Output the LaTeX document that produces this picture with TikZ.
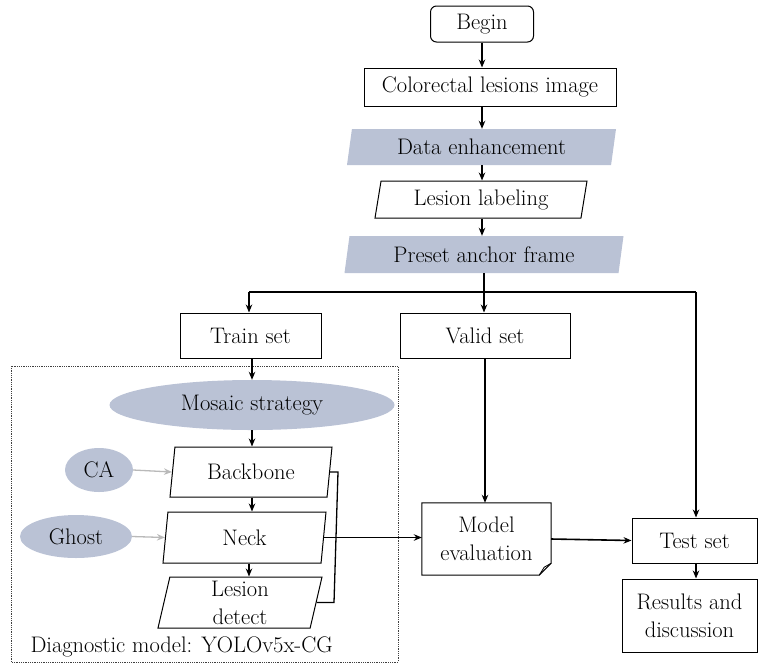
\documentclass[tikz,border=0pt]{standalone}
\usepackage{fontspec}
\usetikzlibrary{shapes.geometric,arrows.meta}
\definecolor{shade}{RGB}{186,194,213}
\tikzset{
  box/.style={draw, line width=1pt, inner sep=2pt},
  slant/.style={trapezium, trapezium left angle=76, trapezium right angle=104,
    trapezium stretches body, inner sep=2pt},
  io/.style={slant, draw, line width=1pt},
  iofill/.style={slant, fill=shade},
  blob/.style={ellipse, fill=shade, inner sep=1pt},
  flow/.style={->, line width=1.6pt},
  side/.style={->, gray!55, line width=1.3pt},
}
\begin{document}
\begin{tikzpicture}[x=1pt, y=-1pt, >={Stealth[length=8pt,width=6.5pt]},
  every node/.style={font=\rmfamily\fontsize{22.5}{28}\selectfont, align=center}]
  \useasboundingbox (0,0) rectangle (759,665);
  % main column
  \node[box, rounded corners=6pt, minimum width=103pt, minimum height=36pt] (begin) at (482,24) {Begin};
  \node[box, minimum width=252pt, minimum height=38pt] (image) at (490,87) {Colorectal lesions image};
  \node[iofill, minimum width=269pt, minimum height=36pt] (enhance) at (481.5,147) {Data enhancement};
  \node[io, minimum width=212pt, minimum height=37pt] (label) at (481,199.5) {Lesion labeling};
  \node[iofill, minimum width=279pt, minimum height=37pt] (anchor) at (484,254.5) {Preset anchor frame};
  % data split
  \node[box, minimum width=141pt, minimum height=45pt] (train) at (250.5,335.5) {Train set};
  \node[box, minimum width=170pt, minimum height=45pt] (valid) at (485,335.5) {Valid set};
  \node[box, minimum width=125pt, minimum height=45pt] (test) at (694.5,540.5) {Test set};
  \node[box, minimum width=135pt, minimum height=73pt] (results) at (689.5,615.5) {Results and\\discussion};
  \node[minimum width=129pt, minimum height=72pt] (evaluation) at (486.5,539) {Model\\evaluation};
  % diagnostic model
  \draw[densely dotted, line width=0.8pt, black!75] (11,366) rectangle (398,662);
  \node[blob, minimum width=285pt, minimum height=50pt] (mosaic) at (252,405) {Mosaic strategy};
  \node[io, minimum width=162pt, minimum height=50pt] (backbone) at (251,472) {Backbone};
  \node[io, minimum width=163pt, minimum height=51pt] (neck) at (244.5,537.5) {Neck};
  \node[io, minimum width=164pt, minimum height=51pt] (detect) at (240,602.5) {Lesion\\detect};
  \node[blob, minimum width=68pt, minimum height=44pt] (ca) at (99,470) {CA};
  \node[blob, minimum width=112pt, minimum height=43pt] (ghost) at (76,536.5) {Ghost};
  \node[anchor=west] (caption) at (27,647) {Diagnostic model: YOLOv5x-CG};

  % document outline with folded corner
  \draw[line width=1pt] (evaluation.north west) -- (evaluation.north east)
    -- ([yshift=12pt]evaluation.south east) -- ([xshift=-12pt]evaluation.south east)
    -- (evaluation.south west) -- cycle;
  \draw[line width=0.8pt] ([yshift=12pt]evaluation.south east)
    -- ([xshift=-7pt,yshift=8pt]evaluation.south east)
    .. controls ([xshift=-10pt,yshift=4pt]evaluation.south east) .. ([xshift=-12pt]evaluation.south east);

  \coordinate (split) at (484,292);
  \coordinate (splitL) at (249,292);
  \coordinate (splitR) at (696,292);
  \coordinate (bt) at (338,472);
  \coordinate (bb) at (334,602.5);

  \draw[flow] (begin.south) -- (begin.south |- image.north);
  \draw[flow] (begin.south |- image.south) -- (begin.south |- enhance.north);
  \draw[flow] (begin.south |- enhance.south) -- (begin.south |- label.north);
  \draw[flow] (begin.south |- label.south) -- (begin.south |- anchor.north);
  \draw[line width=1.6pt] (anchor.south) -- (split);
  \draw[line width=1.6pt] (splitL) -- (splitR);
  \draw[flow] (splitL) -- (splitL |- train.north);
  \draw[flow] (split) -- (split |- valid.north);
  \draw[flow] (splitR) -- (splitR |- test.north);
  \draw[flow] (mosaic.north |- train.south) -- (mosaic.north);
  \draw[flow] (mosaic.south) -- (mosaic.south |- backbone.north);
  \draw[flow] (mosaic.south |- backbone.south) -- (mosaic.south |- neck.north);
  \draw[flow] ([xshift=-3pt]mosaic.south |- neck.south) -- ([xshift=-3pt]mosaic.south |- detect.north);
  \draw[line width=1.3pt] (backbone.east) -- (bt) -- (bb) -- (detect.east);
  \draw[flow] (neck.east) -- (neck.east -| evaluation.west);
  \draw[flow] (valid.south) -- (valid.south |- evaluation.north);
  \draw[flow] (evaluation.east) -- (test.west);
  \draw[flow] (splitR |- test.south) -- (splitR |- results.north);
  \draw[side] (ca.east) -- (backbone.west);
  \draw[side] (ghost.east) -- (neck.west);
\end{tikzpicture}
\end{document}
